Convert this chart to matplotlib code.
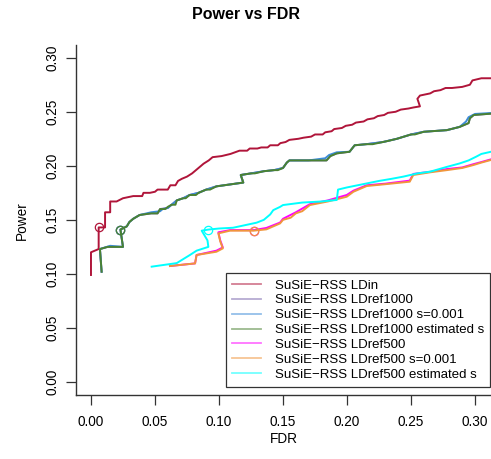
import matplotlib
matplotlib.use("Agg")
import matplotlib.pyplot as plt
from matplotlib.lines import Line2D

plt.rcParams["font.family"] = ["Liberation Sans", "DejaVu Sans"]

# ------------------------------------------------------------
# Data (FDR, power)
# ------------------------------------------------------------
ldin_fdr = [0.000, 0.000, 0.006, 0.006, 0.011, 0.011, 0.015, 0.015, 0.020, 0.025,
            0.033, 0.040, 0.041, 0.046, 0.050, 0.052, 0.060, 0.062, 0.066, 0.068,
            0.071, 0.075, 0.079, 0.083, 0.088, 0.092, 0.095, 0.102, 0.109, 0.116,
            0.122, 0.124, 0.130, 0.133, 0.138, 0.140, 0.146, 0.148, 0.152, 0.155,
            0.162, 0.166, 0.172, 0.175, 0.181, 0.183, 0.188, 0.190, 0.196, 0.199,
            0.204, 0.207, 0.213, 0.216, 0.221, 0.224, 0.229, 0.232, 0.238, 0.242,
            0.248, 0.252, 0.257, 0.255, 0.257, 0.265, 0.268, 0.273, 0.277, 0.282,
            0.290, 0.296, 0.298, 0.305, 0.315]
ldin_pow = [0.099, 0.120, 0.123, 0.143, 0.143, 0.157, 0.157, 0.167, 0.167, 0.170,
            0.172, 0.172, 0.175, 0.175, 0.176, 0.178, 0.178, 0.182, 0.182, 0.186,
            0.188, 0.190, 0.193, 0.197, 0.202, 0.205, 0.208, 0.209, 0.211, 0.214,
            0.214, 0.216, 0.216, 0.217, 0.217, 0.219, 0.219, 0.221, 0.222, 0.224,
            0.225, 0.226, 0.227, 0.229, 0.229, 0.231, 0.232, 0.234, 0.235, 0.237,
            0.238, 0.240, 0.241, 0.243, 0.244, 0.246, 0.247, 0.249, 0.250, 0.252,
            0.253, 0.254, 0.255, 0.262, 0.265, 0.267, 0.269, 0.270, 0.272, 0.272,
            0.273, 0.275, 0.279, 0.281, 0.281]

ref1000_fdr = [0.0083, 0.007, 0.013, 0.025, 0.023, 0.028, 0.030, 0.033, 0.038, 0.047,
               0.052, 0.054, 0.060, 0.063, 0.067, 0.072, 0.077, 0.084, 0.090, 0.098,
               0.110, 0.119, 0.117, 0.125, 0.135, 0.143, 0.150, 0.153, 0.155, 0.170,
               0.184, 0.187, 0.192, 0.202, 0.206, 0.215, 0.228, 0.239, 0.250, 0.260,
               0.278, 0.288, 0.295, 0.296, 0.299, 0.315]
ref1000_pow = [0.102, 0.123, 0.125, 0.125, 0.141, 0.144, 0.148, 0.151, 0.1545, 0.156,
               0.156, 0.160, 0.161, 0.164, 0.168, 0.170, 0.173, 0.175, 0.178, 0.181,
               0.183, 0.1845, 0.1915, 0.193, 0.195, 0.196, 0.198, 0.203, 0.205, 0.205,
               0.205, 0.209, 0.2115, 0.213, 0.219, 0.220, 0.222, 0.225, 0.229, 0.2315,
               0.233, 0.236, 0.2395, 0.244, 0.247, 0.2485]

ref1000_s_fdr = [0.0083, 0.007, 0.015, 0.025, 0.023, 0.028, 0.030, 0.033, 0.038, 0.047,
                 0.054, 0.056, 0.060, 0.063, 0.067, 0.072, 0.077, 0.084, 0.090, 0.098,
                 0.110, 0.119, 0.117, 0.125, 0.135, 0.143, 0.150, 0.153, 0.155, 0.170,
                 0.183, 0.186, 0.192, 0.202, 0.206, 0.215, 0.228, 0.239, 0.250, 0.260,
                 0.278, 0.288, 0.293, 0.295, 0.300, 0.315]
ref1000_s_pow = [0.102, 0.123, 0.126, 0.125, 0.141, 0.144, 0.148, 0.151, 0.1545, 0.157,
                 0.158, 0.160, 0.161, 0.164, 0.168, 0.170, 0.173, 0.175, 0.178, 0.181,
                 0.183, 0.1845, 0.1915, 0.193, 0.195, 0.196, 0.198, 0.203, 0.205, 0.205,
                 0.207, 0.210, 0.2125, 0.213, 0.219, 0.220, 0.222, 0.225, 0.229, 0.2315,
                 0.233, 0.236, 0.241, 0.245, 0.248, 0.249]

ref1000_est_fdr = [0.0083, 0.007, 0.013, 0.025, 0.023, 0.028, 0.030, 0.033, 0.038, 0.047,
                   0.052, 0.054, 0.058, 0.060, 0.063, 0.066, 0.067, 0.072, 0.074, 0.077,
                   0.082, 0.084, 0.090, 0.093, 0.098, 0.110, 0.119, 0.117, 0.125, 0.128,
                   0.135, 0.143, 0.146, 0.150, 0.153, 0.155, 0.170, 0.184, 0.187, 0.192,
                   0.202, 0.206, 0.215, 0.220, 0.228, 0.232, 0.239, 0.250, 0.253, 0.260,
                   0.278, 0.288, 0.295, 0.296, 0.299, 0.315]
ref1000_est_pow = [0.102, 0.123, 0.125, 0.125, 0.141, 0.144, 0.148, 0.151, 0.1545, 0.156,
                   0.156, 0.160, 0.160, 0.162, 0.164, 0.164, 0.168, 0.170, 0.170, 0.173,
                   0.173, 0.175, 0.178, 0.178, 0.181, 0.183, 0.1845, 0.1915, 0.193, 0.193,
                   0.195, 0.196, 0.196, 0.198, 0.203, 0.205, 0.205, 0.205, 0.209, 0.2115,
                   0.213, 0.219, 0.220, 0.220, 0.222, 0.223, 0.225, 0.229, 0.229, 0.2315,
                   0.233, 0.236, 0.2395, 0.244, 0.247, 0.2485]

ref500_fdr = [0.0617, 0.0813, 0.0825, 0.098, 0.103, 0.101, 0.0995, 0.1086, 0.127, 0.137,
              0.1477, 0.150, 0.160, 0.171, 0.185, 0.1998, 0.205, 0.2154, 0.230, 0.249,
              0.2518, 0.265, 0.278, 0.290, 0.2987, 0.305, 0.3125]
ref500_pow = [0.1073, 0.1097, 0.1175, 0.1215, 0.1245, 0.131, 0.1385, 0.1405, 0.1405, 0.1425,
              0.1475, 0.151, 0.157, 0.1645, 0.168, 0.173, 0.177, 0.1820, 0.1835, 0.1863,
              0.1925, 0.1945, 0.197, 0.1985, 0.2015, 0.2035, 0.206]

ref500_s_fdr = [0.0617, 0.0813, 0.0825, 0.098, 0.103, 0.101, 0.0995, 0.1086, 0.127, 0.137,
                0.1477, 0.150, 0.156, 0.160, 0.165, 0.171, 0.185, 0.1998, 0.205, 0.2154,
                0.230, 0.249, 0.2518, 0.265, 0.278, 0.290, 0.2987, 0.305, 0.3125]
ref500_s_pow = [0.1073, 0.1097, 0.1175, 0.1205, 0.1236, 0.130, 0.1375, 0.140, 0.140, 0.1412,
                0.1467, 0.150, 0.152, 0.156, 0.158, 0.1637, 0.167, 0.1714, 0.176, 0.1813,
                0.183, 0.1853, 0.1915, 0.194, 0.196, 0.198, 0.2007, 0.203, 0.2054]

ref500_est_fdr = [0.0474, 0.067, 0.0773, 0.0825, 0.0917, 0.091, 0.089, 0.0865, 0.0917, 0.100,
                  0.111, 0.120, 0.1294, 0.135, 0.140, 0.1424, 0.1477, 0.150, 0.165, 0.180,
                  0.192, 0.193, 0.200, 0.2154, 0.225, 0.235, 0.244, 0.255, 0.265, 0.278,
                  0.288, 0.295, 0.301, 0.305, 0.3125]
ref500_est_pow = [0.1067, 0.110, 0.1175, 0.1215, 0.125, 0.131, 0.135, 0.140, 0.141, 0.142,
                  0.1427, 0.145, 0.1474, 0.150, 0.155, 0.159, 0.162, 0.1637, 0.166, 0.167,
                  0.1684, 0.178, 0.180, 0.1837, 0.186, 0.188, 0.190, 0.193, 0.1946, 0.199,
                  0.2022, 0.205, 0.2085, 0.211, 0.213]

# circles at the nominal threshold
mark_fdr = [0.006, 0.023, 0.023, 0.023, 0.127, 0.127, 0.0917]
mark_pow = [0.143, 0.141, 0.141, 0.141, 0.140, 0.140, 0.141]

labels = ["SuSiE\u2212RSS LDin",
          "SuSiE\u2212RSS LDref1000",
          "SuSiE\u2212RSS LDref1000 s=0.001",
          "SuSiE\u2212RSS LDref1000 estimated s",
          "SuSiE\u2212RSS LDref500",
          "SuSiE\u2212RSS LDref500 s=0.001",
          "SuSiE\u2212RSS LDref500 estimated s"]
colors = ["#B0153A", "#7B68AE", "#3C8CD8", "#4A8232",
          "#FF00FF", "#F0963C", "#00FFFF"]

series = [(ldin_fdr, ldin_pow),
          (ref1000_fdr, ref1000_pow),
          (ref1000_s_fdr, ref1000_s_pow),
          (ref1000_est_fdr, ref1000_est_pow),
          (ref500_fdr, ref500_pow),
          (ref500_s_fdr, ref500_s_pow),
          (ref500_est_fdr, ref500_est_pow)]

# ------------------------------------------------------------
# Figure
# ------------------------------------------------------------
fig = plt.figure(figsize=(4.91, 4.59), dpi=100)
ax = fig.add_axes([0.1548, 0.1388, 0.8452, 0.763])

for (xs, ys), c, fx, fy in zip(series, colors, mark_fdr, mark_pow):
    ax.plot(xs, ys, color=c, lw=1.4, clip_on=True)
    ax.plot([fx], [fy], "o", mfc="none", mec=c, ms=6, mew=0.9)

ax.set_xlim(-0.0117, 0.3125)
ax.set_ylim(-0.0123, 0.3117)
ax.set_xticks([0.0, 0.05, 0.10, 0.15, 0.20, 0.25, 0.30])
ax.set_yticks([0.0, 0.05, 0.10, 0.15, 0.20, 0.25, 0.30])
ax.set_xticklabels(["0.00", "0.05", "0.10", "0.15", "0.20", "0.25", "0.30"])
ax.set_yticklabels(["0.00", "0.05", "0.10", "0.15", "0.20", "0.25", "0.30"],
                   rotation=90, va="center")

for s in ["top", "right"]:
    ax.spines[s].set_visible(False)
for s in ["left", "bottom"]:
    ax.spines[s].set_linewidth(1.0)
    ax.spines[s].set_color("#333333")
ax.tick_params(direction="out", length=7, width=0.9, color="#333333",
               labelsize=9.8)
ax.tick_params(axis="x", pad=7)
ax.tick_params(axis="y", pad=5)

ax.set_xlabel("FDR", fontsize=9.8, labelpad=2)
ax.set_ylabel("Power", fontsize=9.8, labelpad=12)
fig.suptitle("Power vs FDR", fontsize=11.5, fontweight="bold", y=0.985)

handles = [Line2D([0], [0], color=c, lw=1.3, alpha=0.55) for c in colors]
leg = ax.legend(handles, labels, loc="upper left",
                bbox_to_anchor=(225.7 / 491, 1 - 272.7 / 459),
                bbox_transform=fig.transFigure,
                fontsize=9.5, frameon=True, fancybox=False,
                handlelength=2.2, handletextpad=1.0, labelspacing=0.2,
                borderpad=0.5, borderaxespad=0)
leg.get_frame().set_edgecolor("black")
leg.get_frame().set_linewidth(0.9)

fig.savefig("out.png", dpi=100)
